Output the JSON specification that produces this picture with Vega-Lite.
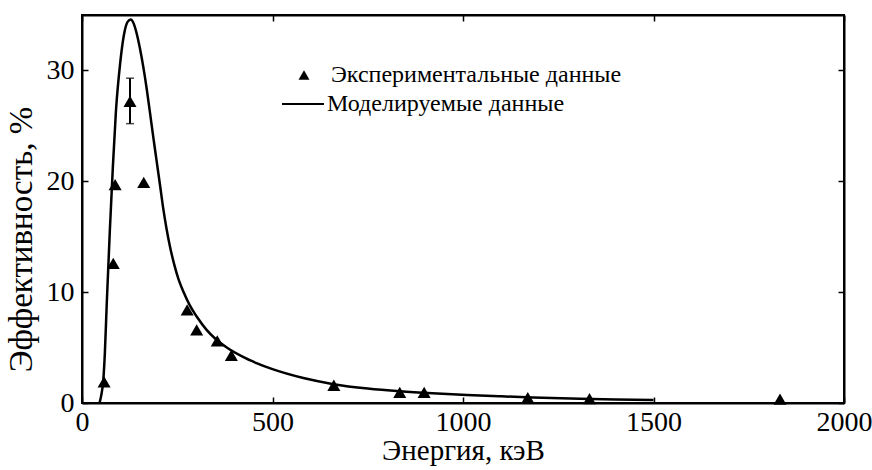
{
  "$schema": "https://vega.github.io/schema/vega-lite/v6.json",
  "autosize": "none",
  "width": 762,
  "height": 388,
  "padding": {"left": 82, "top": 15, "right": 28, "bottom": 67},
  "background": "white",
  "config": {
    "font": "Liberation Serif",
    "view": {"stroke": "black", "strokeWidth": 2},
    "axis": {
      "grid": false,
      "domainColor": "black",
      "domainWidth": 2,
      "tickColor": "black",
      "tickWidth": 1.5,
      "tickSize": -6,
      "labelColor": "black",
      "titleColor": "black",
      "labelFont": "Liberation Serif",
      "titleFont": "Liberation Serif",
      "labelFontSize": 28,
      "titleFontSize": 29,
      "titleFontWeight": "normal",
      "labelFlush": false,
      "labelOverlap": false,
      "format": "d"
    },
    "legend": {
      "labelFont": "Liberation Serif",
      "labelFontSize": 24,
      "labelColor": "black",
      "labelLimit": 0,
      "padding": 0,
      "orient": "none"
    }
  },
  "datasets": {
    "model": [
      {"E": 46, "eff": 0},
      {"E": 50, "eff": 0.6},
      {"E": 56, "eff": 2.1},
      {"E": 60, "eff": 4.5},
      {"E": 65, "eff": 9.0},
      {"E": 73, "eff": 15.5},
      {"E": 81, "eff": 21.3},
      {"E": 89, "eff": 26.3},
      {"E": 100, "eff": 30.6},
      {"E": 110, "eff": 33.2},
      {"E": 120, "eff": 34.4},
      {"E": 128, "eff": 34.6},
      {"E": 136, "eff": 34.2},
      {"E": 143, "eff": 33.4},
      {"E": 152, "eff": 32.0},
      {"E": 161, "eff": 30.3},
      {"E": 170, "eff": 28.3},
      {"E": 178, "eff": 26.3},
      {"E": 187, "eff": 24.0},
      {"E": 196, "eff": 21.8},
      {"E": 205, "eff": 19.6},
      {"E": 213, "eff": 17.6},
      {"E": 222, "eff": 15.7},
      {"E": 231, "eff": 14.1},
      {"E": 242, "eff": 12.5},
      {"E": 253, "eff": 11.2},
      {"E": 268, "eff": 9.9},
      {"E": 283, "eff": 8.8},
      {"E": 301, "eff": 7.8},
      {"E": 327, "eff": 6.6},
      {"E": 350, "eff": 5.8},
      {"E": 380, "eff": 5.0},
      {"E": 420, "eff": 4.2},
      {"E": 458, "eff": 3.6},
      {"E": 500, "eff": 3.05},
      {"E": 581, "eff": 2.25},
      {"E": 660, "eff": 1.7},
      {"E": 750, "eff": 1.3},
      {"E": 835, "eff": 1.05},
      {"E": 920, "eff": 0.87},
      {"E": 1010, "eff": 0.72},
      {"E": 1100, "eff": 0.6},
      {"E": 1184, "eff": 0.5},
      {"E": 1307, "eff": 0.38},
      {"E": 1400, "eff": 0.31},
      {"E": 1500, "eff": 0.26}
    ],
    "exp": [
      {"E": 58, "eff": 1.9, "lo": null, "hi": null},
      {"E": 82, "eff": 12.6, "lo": null, "hi": null},
      {"E": 87, "eff": 19.7, "lo": null, "hi": null},
      {"E": 126, "eff": 27.2, "lo": 25.2, "hi": 29.3},
      {"E": 162, "eff": 19.9, "lo": null, "hi": null},
      {"E": 276, "eff": 8.4, "lo": null, "hi": null},
      {"E": 301, "eff": 6.6, "lo": null, "hi": null},
      {"E": 355, "eff": 5.6, "lo": null, "hi": null},
      {"E": 392, "eff": 4.3, "lo": null, "hi": null},
      {"E": 661, "eff": 1.6, "lo": null, "hi": null},
      {"E": 834, "eff": 0.96, "lo": null, "hi": null},
      {"E": 898, "eff": 0.96, "lo": null, "hi": null},
      {"E": 1170, "eff": 0.48, "lo": null, "hi": null},
      {"E": 1332, "eff": 0.4, "lo": null, "hi": null},
      {"E": 1832, "eff": 0.35, "lo": null, "hi": null}
    ]
  },
  "resolve": {"axis": {"x": "independent", "y": "independent"}},
  "layer": [
    {
      "data": {"name": "model"},
      "mark": {"type": "line", "interpolate": "monotone", "strokeWidth": 2.5, "clip": true},
      "encoding": {
        "x": {"field": "E", "type": "quantitative", "scale": {"domain": [0, 2000], "nice": false},
          "axis": {"values": [0, 500, 1000, 1500, 2000], "title": "Энергия, кэВ", "labelPadding": 11, "titlePadding": 0}},
        "y": {"field": "eff", "type": "quantitative", "scale": {"domain": [0, 35], "nice": false},
          "axis": {"values": [0, 10, 20, 30], "title": "Эффективность, %", "labelPadding": 14, "titlePadding": 8, "titleFontSize": 33, "titleY": 224}},
        "color": {"datum": "Моделируемые данные", "type": "nominal",
          "scale": {"domain": ["Моделируемые данные"], "range": ["black"]},
          "legend": {"title": null, "symbolType": "stroke", "symbolSize": 1764, "symbolStrokeWidth": 2, "labelOffset": 2, "legendX": 199, "legendY": 67}}
      }
    },
    {
      "data": {"name": "exp"},
      "mark": {"type": "point", "filled": true, "color": "black", "opacity": 1, "size": 170},
      "encoding": {
        "x": {"field": "E", "type": "quantitative", "scale": {"domain": [0, 2000], "nice": false},
          "axis": {"orient": "top", "values": [0, 500, 1000, 1500, 2000], "labels": false, "title": null}},
        "y": {"field": "eff", "type": "quantitative", "scale": {"domain": [0, 35], "nice": false},
          "axis": {"orient": "right", "values": [0, 10, 20, 30], "labels": false, "title": null}},
        "shape": {"datum": "Экспериментальные данные", "type": "nominal",
          "scale": {"domain": ["Экспериментальные данные"], "range": ["triangle-up"]},
          "legend": {"title": null, "symbolSize": 120, "symbolFillColor": "black", "symbolStrokeColor": "black", "labelOffset": 15, "legendX": 210, "legendY": 48}}
      }
    },
    {
      "data": {"name": "exp"},
      "transform": [{"filter": "datum.lo != null"}],
      "mark": {"type": "rule", "color": "black", "strokeWidth": 2},
      "encoding": {
        "x": {"field": "E", "type": "quantitative", "axis": null},
        "y": {"field": "lo", "type": "quantitative", "axis": null},
        "y2": {"field": "hi"}
      }
    },
    {
      "data": {"name": "exp"},
      "transform": [{"filter": "datum.lo != null"}],
      "mark": {"type": "tick", "orient": "horizontal", "color": "black", "size": 8, "thickness": 1.5},
      "encoding": {
        "x": {"field": "E", "type": "quantitative", "axis": null},
        "y": {"field": "lo", "type": "quantitative", "axis": null}
      }
    },
    {
      "data": {"name": "exp"},
      "transform": [{"filter": "datum.lo != null"}],
      "mark": {"type": "tick", "orient": "horizontal", "color": "black", "size": 8, "thickness": 1.5},
      "encoding": {
        "x": {"field": "E", "type": "quantitative", "axis": null},
        "y": {"field": "hi", "type": "quantitative", "axis": null}
      }
    }
  ]
}
